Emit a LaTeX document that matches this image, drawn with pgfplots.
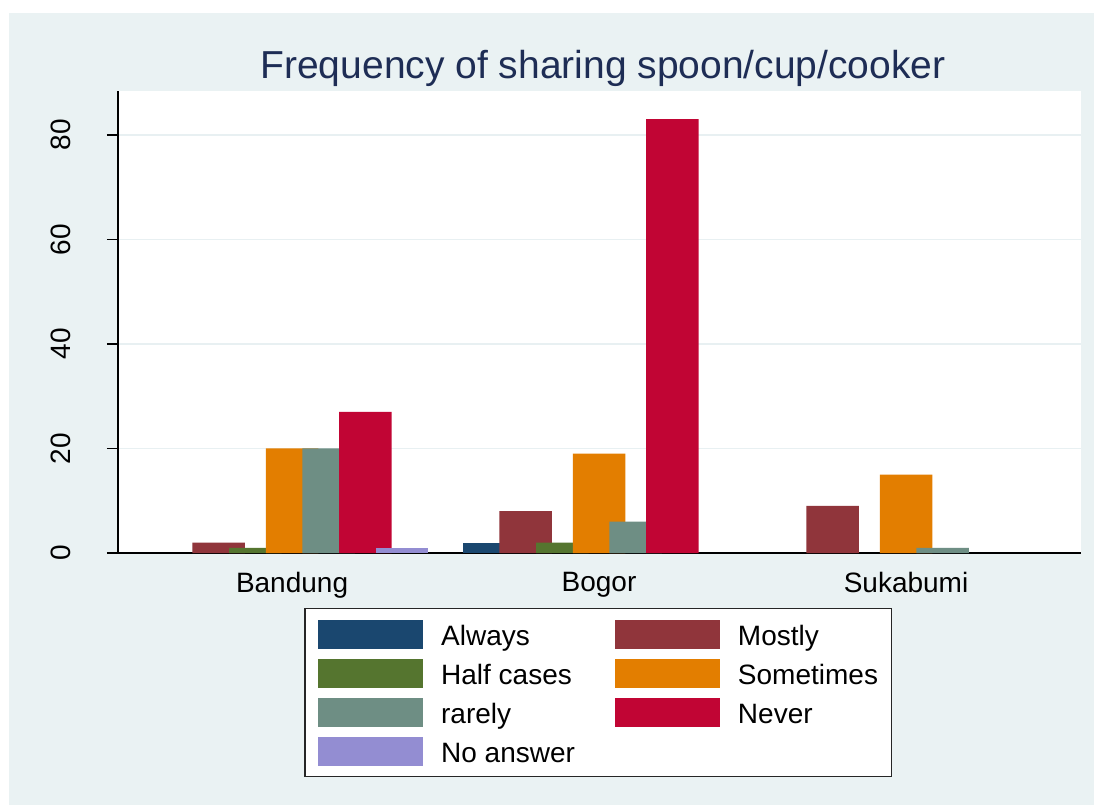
\documentclass[border=0pt]{standalone}
\usepackage{pgfplots}
\pgfplotsset{compat=1.18}
\usepackage{fontspec}
\setmainfont{Liberation Sans}
\definecolor{bgc}{RGB}{234,242,243}
\definecolor{gridc}{RGB}{232,240,242}
\definecolor{titlec}{RGB}{30,45,85}
\definecolor{cnavy}{RGB}{26,71,111}
\definecolor{cmaroon}{RGB}{144,53,59}
\definecolor{cgreen}{RGB}{85,117,47}
\definecolor{corange}{RGB}{227,126,0}
\definecolor{cteal}{RGB}{110,142,132}
\definecolor{ccran}{RGB}{193,5,52}
\definecolor{clav}{RGB}{147,141,210}
\begin{document}
\begin{tikzpicture}
\fill[white] (0pt,0pt) rectangle (547pt,402.5pt);
\fill[bgc] (4.5pt,0pt) rectangle (547pt,396pt);
\begin{axis}[
  at={(59pt,126pt)}, anchor=south west,
  scale only axis, width=481.5pt, height=231pt,
  xmin=-0.567, xmax=2.570, ymin=0, ymax=88.4,
  enlargelimits=false,
  axis background/.style={fill=white},
  axis x line*=bottom, axis y line*=left,
  axis line style={-, black, line width=0.8pt},
  ybar, bar width=0.171,
  xtick={0,1,2}, xticklabels={Bandung,Bogor,Sukabumi},
  xtick style={draw=none},
  ytick={0,20,40,60,80},
  tick align=outside, major tick length=5.5pt,
  ytick style={black, line width=0.7pt},
  ymajorgrids, grid style={gridc, line width=0.9pt},
  /pgf/number format/assume math mode=true,
  tick label style={font=\fontsize{14}{16}\selectfont, black},
  xticklabel style={anchor=north, inner sep=0pt, yshift=-4pt},
  yticklabel style={xshift=-18pt, rotate=90, anchor=south, inner sep=0pt},
  title={Frequency of sharing spoon/cup/cooker},
  title style={at={(0.5,1)}, anchor=base, yshift=0.5pt, xshift=1.75pt,
    font=\fontsize{19.5}{23}\selectfont, color=titlec},
  legend columns=2,
  legend image code/.code={\fill[#1] (0pt,-1.5pt) rectangle (52.5pt,13pt);},
  legend style={
    at={(0.5,-0.119)}, anchor=north, xshift=-0.7pt,
    draw=black!85, line width=0.75pt, fill=white,
    inner xsep=6.7pt, inner ysep=5.5pt,
    font=\fontsize{14}{16}\selectfont,
    nodes={inner sep=0pt, anchor=base west, text height=10pt, text depth=1.5pt},
    row sep=5pt,
    /tikz/column 1/.style={column sep=9pt},
    /tikz/column 2/.style={column sep=20pt},
    /tikz/column 3/.style={column sep=9pt},
  },
]
\addplot[fill=cnavy, draw=none, bar shift=-0.3586] coordinates {(1,2)};
\addplot[fill=cmaroon, draw=none, bar shift=-0.2391] coordinates {(0,2) (1,8) (2,9)};
\addplot[fill=cgreen, draw=none, bar shift=-0.1195] coordinates {(0,1) (1,2)};
\addplot[fill=corange, draw=none, bar shift=0] coordinates {(0,20) (1,19) (2,15)};
\addplot[fill=cteal, draw=none, bar shift=0.1195] coordinates {(0,20) (1,6) (2,1)};
\addplot[fill=ccran, draw=none, bar shift=0.2391] coordinates {(0,27) (1,83)};
\addplot[fill=clav, draw=none, bar shift=0.3586] coordinates {(0,1)};
\legend{Always,Mostly,Half cases,Sometimes,rarely,Never,No answer}
\end{axis}
\end{tikzpicture}
\end{document}
